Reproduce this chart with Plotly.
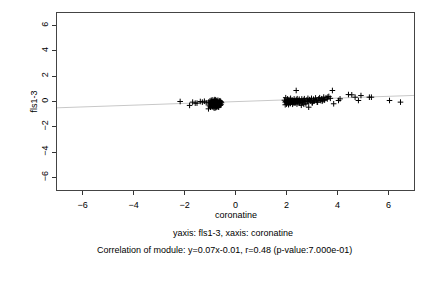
import plotly.graph_objects as go

# --- data ---
x_left = [-2.17, -1.80, -1.68, -1.58, -1.51, -1.38, -1.30, -1.22, -1.15, -1.06,
          -1.05, -1.02, -1.00, -0.98, -0.96, -0.95, -0.93, -0.92, -0.90, -0.89,
          -0.88, -0.86, -0.85, -0.84, -0.82, -0.81, -0.80, -0.79, -0.78, -0.76,
          -0.75, -0.74, -0.73, -0.72, -0.70, -0.69, -0.68, -0.66, -0.65, -0.64,
          -0.62, -0.61, -0.60, -0.58, -0.57, -0.55, -0.98, -0.90, -0.84, -0.77,
          -0.71, -0.66, -0.60, -0.94, -0.87, -0.80, -0.74, -0.68, -0.62, -1.02,
          -0.92, -0.83, -0.75, -0.69, -0.63, -0.58, -0.88, -0.79, -0.72, -0.65]
y_left = [0.00, -0.31, -0.05, -0.13, -0.13, 0.00, -0.05, 0.02, -0.10, -0.58,
          -0.05, -0.20, 0.05, -0.30, -0.12, 0.10, -0.40, -0.02, -0.25, 0.12,
          -0.45, -0.10, 0.02, -0.35, -0.18, 0.15, -0.50, -0.05, -0.28, 0.08,
          -0.42, -0.15, 0.05, -0.32, -0.08, 0.10, -0.22, -0.40, 0.00, -0.12,
          -0.30, 0.06, -0.18, -0.05, -0.25, -0.10, -0.45, -0.38, -0.52, -0.48,
          -0.35, -0.45, -0.30, 0.00, -0.15, -0.22, -0.02, -0.10, 0.02, -0.35,
          -0.28, 0.08, -0.38, -0.20, -0.15, 0.00, -0.05, 0.12, -0.42, -0.28]

x_right = [1.92, 1.95, 1.97, 2.00, 2.02, 2.04, 2.06, 2.08, 2.10, 2.12,
           2.14, 2.16, 2.18, 2.20, 2.22, 2.25, 2.28, 2.30, 2.32, 2.35,
           2.38, 2.40, 2.42, 2.45, 2.48, 2.50, 2.53, 2.56, 2.60, 2.63,
           2.66, 2.70, 2.73, 2.76, 2.80, 2.84, 2.87, 2.90, 2.94, 2.98,
           3.02, 3.06, 3.10, 3.14, 3.18, 3.22, 3.26, 3.30, 3.34, 3.38,
           3.42, 3.46, 3.50, 3.55, 3.60, 3.66, 3.72, 1.98, 2.05, 2.12,
           2.20, 2.27, 2.34, 2.44, 2.52, 2.62, 2.72, 2.82, 2.95, 3.05,
           2.00, 2.08, 2.15, 2.24, 2.33, 2.41, 2.50, 2.38, 3.80, 2.87,
           1.95, 3.85, 4.04, 4.10, 4.43, 4.56, 4.69, 4.82, 4.92, 5.25,
           5.33, 6.04, 6.47, 3.20, 3.40, 3.62, 2.58, 2.68, 3.00, 3.48]
y_right = [0.10, -0.05, 0.30, 0.02, -0.12, 0.20, 0.05, -0.08, 0.15, 0.00,
           -0.15, 0.25, 0.05, -0.05, 0.12, 0.02, -0.10, 0.20, 0.05, -0.02,
           0.15, 0.00, 0.22, -0.08, 0.08, 0.18, -0.12, 0.05, 0.20, -0.05,
           0.10, 0.22, 0.00, -0.18, 0.12, 0.25, -0.02, 0.15, 0.05, 0.25,
           -0.10, 0.18, 0.05, 0.28, 0.10, -0.05, 0.20, 0.30, 0.08, 0.22,
           0.12, 0.35, 0.15, 0.30, 0.20, 0.40, 0.25, 0.00, 0.08, -0.05,
           0.00, 0.05, -0.10, 0.02, -0.05, -0.02, 0.05, 0.00, 0.08, 0.02,
           -0.20, -0.25, -0.15, -0.22, -0.12, -0.20, -0.10, 0.87, 0.87, -0.45,
           -0.26, -0.18, 0.08, 0.21, 0.55, 0.53, 0.34, 0.08, 0.47, 0.34,
           0.34, 0.08, -0.05, -0.05, 0.02, 0.35, -0.30, -0.22, -0.10, 0.10]

slope = 0.07
intercept = -0.01
fit_x = [-7, 7]

x_ticks = [-6, -4, -2, 0, 2, 4, 6]
y_ticks = [-6, -4, -2, 0, 2, 4, 6]

x_label = "coronatine"
y_label = "fls1-3"
subtitle = "yaxis: fls1-3, xaxis: coronatine"
caption = "Correlation of module: y=0.07x-0.01, r=0.48 (p-value:7.000e-01)"

FONT = "Liberation Sans, Arial, Helvetica, sans-serif"
FS = 9

fig = go.Figure()
fig.add_trace(go.Scatter(
    x=fit_x, y=[slope * v + intercept for v in fit_x],
    mode="lines", line=dict(color="#c8c8c8", width=1), hoverinfo="skip"))
fig.add_trace(go.Scatter(
    x=x_left + x_right, y=y_left + y_right, mode="markers",
    marker=dict(symbol="cross-thin", size=4, color="black",
                line=dict(color="black", width=1))))

axis_common = dict(showgrid=False, zeroline=False, showline=True,
                   linecolor="#444", linewidth=1, mirror=True,
                   ticks="outside", ticklen=4, tickcolor="#333",
                   tickfont=dict(family=FONT, size=FS, color="black"))

fig.update_layout(
    width=432, height=288,
    margin=dict(l=57, r=18, t=13, b=98),
    paper_bgcolor="white", plot_bgcolor="white",
    showlegend=False,
    font=dict(family=FONT, size=FS, color="black"),
    xaxis=dict(range=[-7, 7], tickvals=x_ticks, ticklabelstandoff=2, **axis_common),
    yaxis=dict(range=[-7, 7], tickvals=y_ticks, tickangle=-90, ticklabelstandoff=0,
               **axis_common),
    annotations=[
        dict(text=x_label, xref="paper", yref="paper", x=0.5, y=0,
             yanchor="middle", yshift=-25, showarrow=False, font=dict(size=FS)),
        dict(text=y_label, xref="paper", yref="paper", x=0, y=0.5,
             xanchor="center", xshift=-24, textangle=-90, showarrow=False,
             font=dict(size=FS)),
        dict(text=subtitle, xref="paper", yref="paper", x=0.493, y=0,
             yanchor="middle", yshift=-43, showarrow=False, font=dict(size=FS)),
        dict(text=caption, xref="paper", yref="paper", x=0.469, y=0,
             yanchor="middle", yshift=-60, showarrow=False, font=dict(size=FS)),
    ],
)

fig.write_html("out.html")
